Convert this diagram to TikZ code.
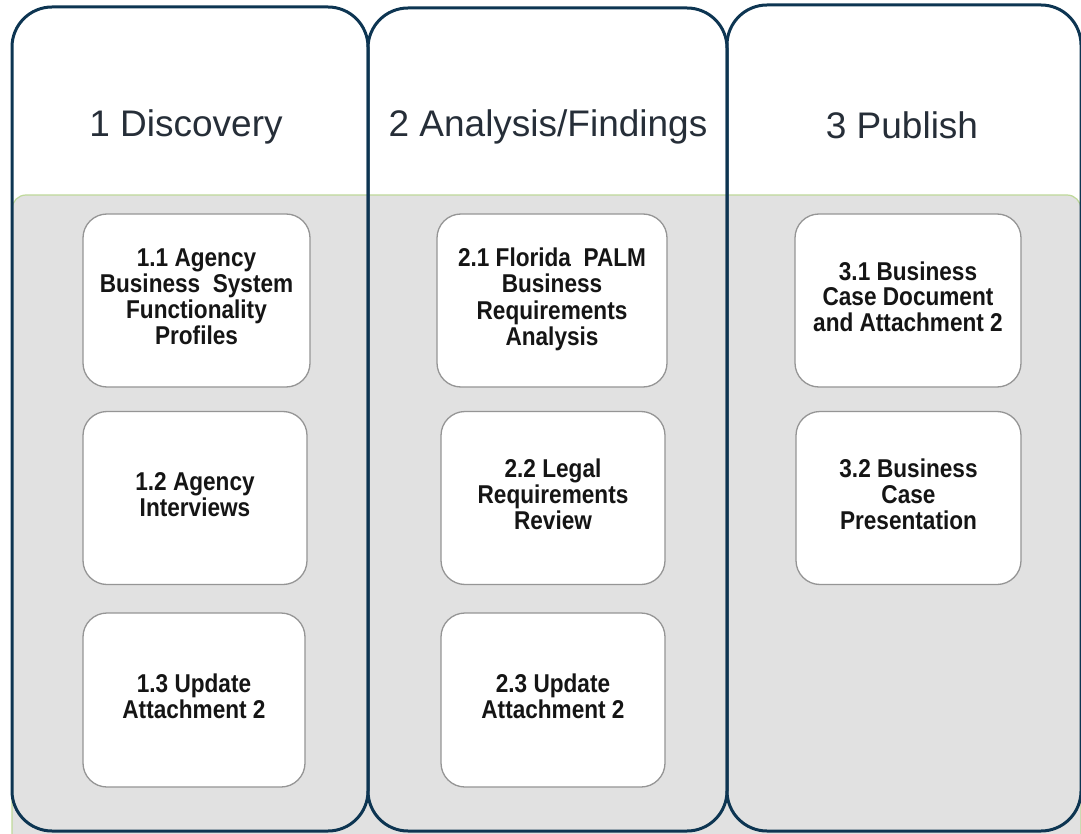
\documentclass[tikz,border=0pt]{standalone}
\usepackage{fontspec}
\usepackage{graphicx}
\setmainfont{Liberation Sans}
\definecolor{colline}{HTML}{0D3552}
\definecolor{bandgray}{HTML}{E1E1E1}
\definecolor{bandgreen}{HTML}{BFD99A}
\definecolor{boxgray}{HTML}{959595}
\definecolor{titlecol}{HTML}{262E38}
\definecolor{boxtext}{HTML}{151515}
\newcommand\tallstack[1]{\scalebox{1}[1.14]{\begin{tabular}{@{}c@{}}#1\end{tabular}}}
\tikzset{
  colframe/.style={draw=colline, line width=3pt, rounded corners=40pt},
  pbox/.style={rectangle, draw=boxgray, fill=white, line width=1.3pt, rounded corners=24pt,
    align=center, text=boxtext, inner sep=0pt, font=\fontsize{22.6}{22}\selectfont\bfseries},
  ttl/.style={text=titlecol, inner sep=0pt, font=\fontsize{37}{42}\selectfont}
}
\begin{document}
\begin{tikzpicture}[x=1pt,y=-1pt]
\useasboundingbox (0,0) rectangle (1081,834);
\clip (0,0) rectangle (1081,834);
% grey band
\filldraw[fill=bandgray, draw=bandgreen, line width=1.2pt, rounded corners=14pt] (12,195) rectangle (1081,850);
% column frames
\draw[colframe] (12,7) rectangle (368,831);
\draw[colframe] (368,8) rectangle (727,831);
\draw[colframe] (727,5) rectangle (1081,831);
% titles
\node[ttl] (t1) at (186,127) {1 Discovery};
\node[ttl] (t2) at (548,127) {2 Analysis/Findings};
\node[ttl] (t3) at (902,125) {3 Publish};
% boxes
\node[pbox, minimum width=227pt, minimum height=173pt] (b11) at (196.5,300.5) {\tallstack{1.1 Agency\\Business\ \ System\\Functionality\\Profiles}};
\node[pbox, minimum width=230pt, minimum height=173pt] (b21) at (552,300.5) {\tallstack{2.1 Florida\ \ PALM\\Business\\Requirements\\Analysis}};
\node[pbox, minimum width=226pt, minimum height=173pt] (b31) at (908,300.5) {\tallstack{3.1 Business\\Case Document\\and Attachment 2}};
\node[pbox, minimum width=224pt, minimum height=173pt] (b12) at (195,498) {\tallstack{1.2 Agency\\Interviews}};
\node[pbox, minimum width=224pt, minimum height=173pt] (b22) at (553,498) {\tallstack{2.2 Legal\\Requirements\\Review}};
\node[pbox, minimum width=225pt, minimum height=173pt] (b32) at (908.5,498) {\tallstack{3.2 Business\\Case\\Presentation}};
\node[pbox, minimum width=222pt, minimum height=174pt] (b13) at (194,700) {\tallstack{1.3 Update\\Attachment 2}};
\node[pbox, minimum width=224pt, minimum height=174pt] (b23) at (553,700) {\tallstack{2.3 Update\\Attachment 2}};
\end{tikzpicture}
\end{document}
